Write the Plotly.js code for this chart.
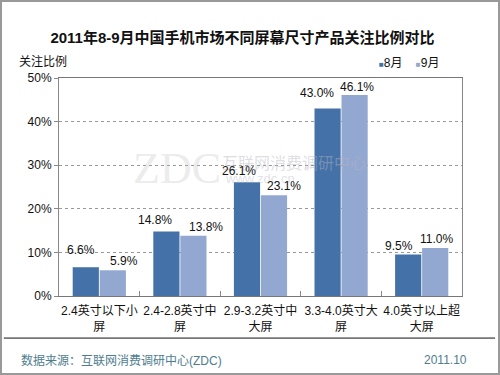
<!DOCTYPE html>
<html><head><meta charset="utf-8">
<script src="https://cdn.plot.ly/plotly-3.0.1.min.js"></script>
<style>html,body{margin:0;padding:0;background:#fff}#wrap{position:relative;width:500px;height:375px}#c{width:500px;height:375px}
#frame{position:absolute;left:0;top:0;width:500px;height:375px;box-sizing:border-box;border:2px solid #999;pointer-events:none}</style>
</head><body><div id="wrap"><div id="c"></div><div id="frame"></div></div>
<script>
const categories = ["2.4英寸以下小<br>屏", "2.4-2.8英寸中<br>屏", "2.9-3.2英寸中<br>大屏", "3.3-4.0英寸大<br>屏", "4.0英寸以上超<br>大屏"];
const aug = [6.6, 14.8, 26.1, 43.0, 9.5];
const sep = [5.9, 13.8, 23.1, 46.1, 11.0];
const seriesNames = ["8月", "9月"];
const seriesColors = ["#4571A9", "#93A8D1"];
const yTicks = [0, 10, 20, 30, 40, 50];

// label placement tweaks (pixels, relative to category centre / bar top)
const labelDxAug = [-18, -25, -22, -24, -23];
const labelDxSep = [25, 26, 23, 16, 15];
const labelGapAug = [12, 6, 6, 11, 4];
const labelGapSep = [4, 4, 4, 3, 4];

const F = "Liberation Sans, Arial, Noto Sans CJK SC, sans-serif";
const fmt = v => v.toFixed(1) + "%";

const traces = [
  {type:"bar", name:seriesNames[0], x:categories, y:aug, marker:{color:seriesColors[0]}, showlegend:false},
  {type:"bar", name:seriesNames[1], x:categories, y:sep, marker:{color:seriesColors[1]}, showlegend:false}
];

const labelAnns = [];
categories.forEach((c, i) => {
  labelAnns.push({x:c, y:aug[i], xref:"x", yref:"y", text:fmt(aug[i]), showarrow:false, xanchor:"center", yanchor:"bottom",
    xshift:labelDxAug[i], yshift:labelGapAug[i]-4, font:{family:F, size:12, color:"#111"}});
  labelAnns.push({x:c, y:sep[i], xref:"x", yref:"y", text:fmt(sep[i]), showarrow:false, xanchor:"center", yanchor:"bottom",
    xshift:labelDxSep[i], yshift:labelGapSep[i]-4, font:{family:F, size:12, color:"#111"}});
});

const legendText = seriesNames.map((n, i) => `<span style="color:${seriesColors[i]};font-size:8px">■</span>${n}`).join("&nbsp;&nbsp;&nbsp;&nbsp;");

const layout = {
  width:500, height:375,
  margin:{l:59, r:38, t:78, b:79, autoexpand:false},
  paper_bgcolor:"#fff", plot_bgcolor:"#fff",
  font:{family:F, size:12, color:"#111"},
  title:{text:"<b>2011年8-9月中国手机市场不同屏幕尺寸产品关注比例对比</b>", x:0.485, xanchor:"center", y:0.9, yanchor:"middle", yref:"container",
         font:{family:"Liberation Sans, Noto Sans CJK SC, sans-serif", size:15, color:"#111"}},
  barmode:"group", bargap:0.33, bargroupgap:0.03,
  showlegend:false,
  xaxis:{type:"category", showline:true, linecolor:"#777", linewidth:1, mirror:true, tickangle:0,
         ticks:"inside", tickson:"boundaries", ticklen:5, tickcolor:"#888", ticklabelstandoff:4,
         tickfont:{family:F, size:12, color:"#111"}, showgrid:false},
  yaxis:{range:[0,50], tickvals:yTicks, ticktext:yTicks.map(v=>v+"%"), showline:true, linecolor:"#888", linewidth:1, mirror:true,
         ticks:"outside", ticklen:4, tickcolor:"#888", showgrid:true, gridcolor:"#999", griddash:"dot", gridwidth:1,
         tickfont:{family:F, size:12, color:"#111"}, zeroline:false},
  annotations:[
    {text:"关注比例", xref:"paper", yref:"paper", x:-0.105, y:1.075, xanchor:"left", yanchor:"middle", showarrow:false, font:{family:F, size:12, color:"#111"}},
    {text:"ZDC", xref:"paper", yref:"paper", x:0.293, y:0.583, xanchor:"center", yanchor:"middle", showarrow:false, font:{family:"Liberation Serif, DejaVu Serif, serif", size:44, color:"rgba(190,190,190,0.3)"}},
    {text:"互联网消费调研中心", xref:"paper", yref:"paper", x:0.40, y:0.61, xanchor:"left", yanchor:"middle", showarrow:false, font:{family:F, size:16, color:"rgba(180,180,190,0.45)"}},
    {text:"www.zdc.cn", xref:"paper", yref:"paper", x:0.407, y:0.541, xanchor:"left", yanchor:"middle", showarrow:false, font:{family:F, size:13, color:"rgba(180,180,190,0.4)"}},
    {text:legendText, xref:"paper", yref:"paper", x:0.79, y:1.07, xanchor:"left", yanchor:"middle", showarrow:false, font:{family:F, size:12, color:"#111"}},
    {text:"数据来源：互联网消费调研中心(ZDC)", xref:"paper", yref:"paper", x:-0.10, y:-0.295, xanchor:"left", yanchor:"middle", showarrow:false, font:{family:F, size:12, color:"#4E7D8E"}},
    {text:"2011.10", xref:"paper", yref:"paper", x:1.01, y:-0.295, xanchor:"right", yanchor:"middle", xshift:3, showarrow:false, font:{family:F, size:12, color:"#4E7D8E"}}
  ].concat(labelAnns),
  shapes:[
    {type:"line", xref:"paper", yref:"paper", x0:-0.137, x1:1.082, y0:-0.193, y1:-0.193, line:{color:"#111", width:1}}
  ]
};

Plotly.newPlot("c", traces, layout, {displayModeBar:false, staticPlot:true});
</script></body></html>
